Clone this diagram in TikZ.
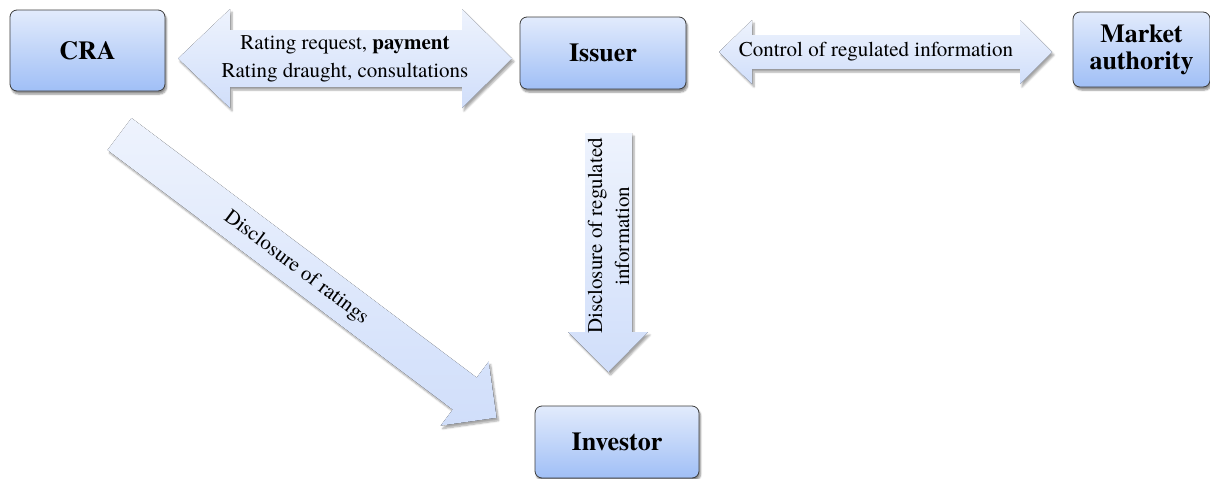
\documentclass[tikz,border=0pt]{standalone}
\usepackage{fontspec}
\setmainfont{texgyretermes}[Extension=.otf, UprightFont=*-regular, BoldFont=*-bold,
  ItalicFont=*-italic, BoldItalicFont=*-bolditalic]
\usetikzlibrary{shadows.blur}
\definecolor{boxtop}{RGB}{226,235,252}
\definecolor{boxbot}{RGB}{160,191,246}
\definecolor{arrlight}{RGB}{238,243,253}
\definecolor{arrdark}{RGB}{208,222,250}
\definecolor{boxline}{RGB}{60,60,60}
\begin{document}
\begin{tikzpicture}[x=1pt,y=-1pt,
  actor/.style={draw=boxline, line width=0.8pt, rounded corners=7pt,
    top color=boxtop, bottom color=boxbot, align=center, inner sep=0pt,
    font=\fontsize{26}{27}\selectfont\bfseries,
    blur shadow={shadow xshift=1.5pt, shadow yshift=-3pt, shadow blur steps=6, shadow opacity=45}},
  blockarrow/.style={top color=arrlight, bottom color=arrdark,
    blur shadow={shadow xshift=2pt, shadow yshift=-3pt, shadow blur steps=6, shadow opacity=35}},
  flowtext/.style={font=\fontsize{21}{27}\selectfont, align=center, inner sep=0pt}]
\useasboundingbox (0,0) rectangle (1210,479);

% parties
\node[actor, minimum width=155pt, minimum height=81pt] (cra) at (87.5,50.5) {CRA};
\node[actor, minimum width=166pt, minimum height=72pt] (issuer) at (603,53) {Issuer};
\node[actor, minimum width=137pt, minimum height=75pt] (market) at (1141.5,49.5) {Market\\authority};
\node[actor, minimum width=164pt, minimum height=72pt] (investor) at (617,442) {Investor};

% CRA <-> Issuer
\fill[blockarrow] (178,58.5) -- (230,9) -- (230,30) -- (462,30) -- (462,9) -- (512,58.5)
  -- (462,108) -- (462,87) -- (230,87) -- (230,108) -- cycle;
\node[flowtext] (req) at (345,45) {Rating request, \textbf{payment}};
\node[flowtext] (dra) at (345,73) {Rating draught, consultations};

% Issuer <-> Market authority
\fill[blockarrow] (719,52) -- (752,20) -- (752,35) -- (1020,35) -- (1020,20) -- (1052,52)
  -- (1020,84) -- (1020,69) -- (752,69) -- (752,84) -- cycle;
\node[flowtext] (ctl) at (876,52) {Control of regulated information};

% Issuer -> Investor
\fill[blockarrow] (585,133) -- (632,133) -- (632,332) -- (648,332) -- (608.5,372)
  -- (568,332) -- (585,332) -- cycle;
\node[flowtext, rotate=90] (dis) at (608.5,236) {Disclosure of regulated\\information};

% CRA -> Investor
\fill[blockarrow] (131.5,118) -- (476.7,377.6) -- (488.7,361.6) -- (496.6,417.7)
  -- (440.7,425.6) -- (452.7,409.6) -- (107.5,150) -- cycle;
\node[flowtext, rotate=-37] (rat) at (296,268) {Disclosure of ratings};
\end{tikzpicture}
\end{document}
